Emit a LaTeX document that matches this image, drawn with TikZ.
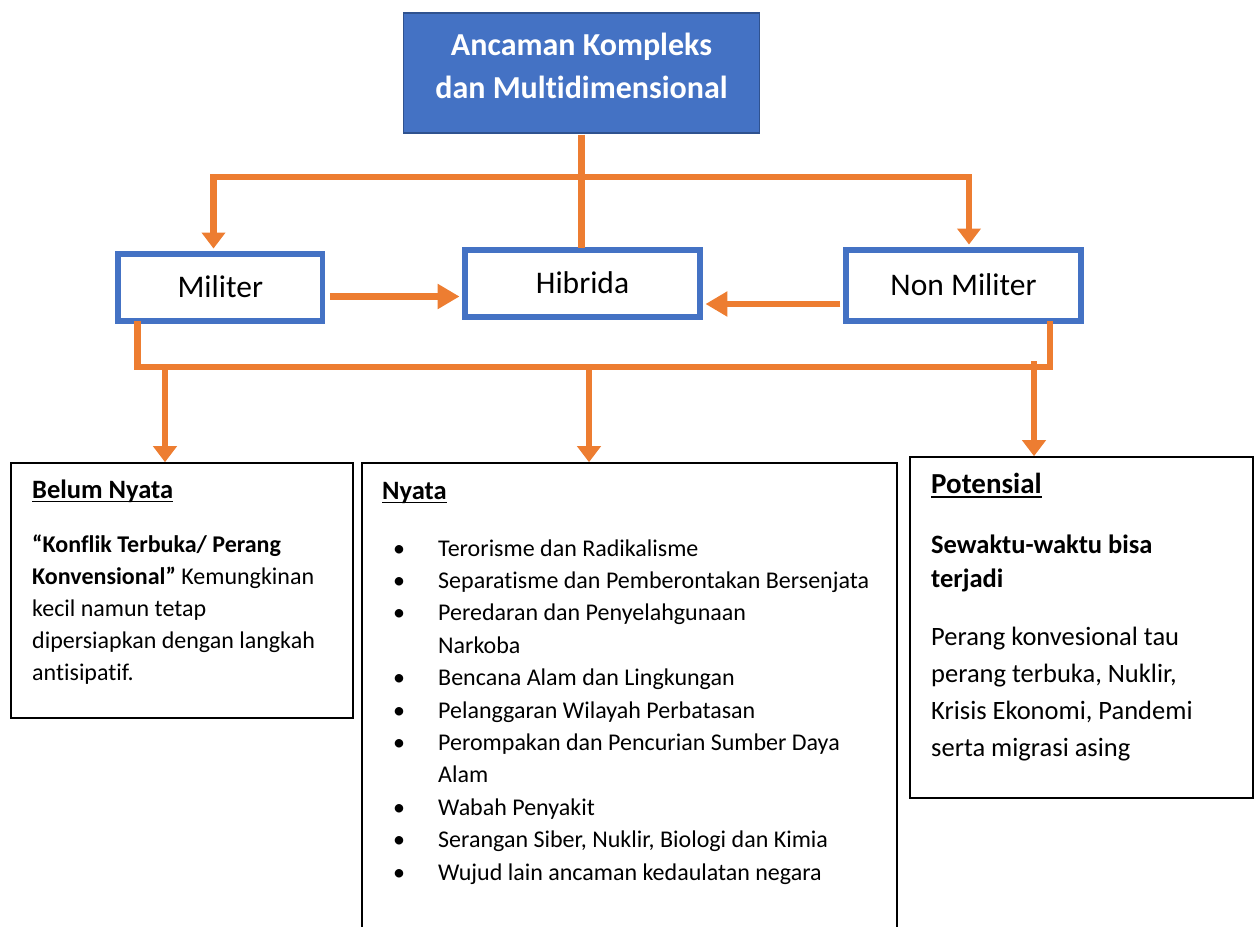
\documentclass[tikz,border=0pt]{standalone}
\usepackage{fontspec}
\setmainfont{Carlito}[Ligatures={NoCommon,NoContextual,NoRequired}]
\usetikzlibrary{arrows.meta}
\definecolor{orng}{HTML}{ED7D31}
\definecolor{blu}{HTML}{4472C4}
\definecolor{dblu}{HTML}{2F528F}
\begin{document}
\begin{tikzpicture}[x=1pt,y=-1pt,
  topbox/.style={draw=dblu, line width=1.5pt, fill=blu, inner sep=0pt, minimum width=356pt, minimum height=120pt},
  titletxt/.style={inner sep=0pt, anchor=base, text=white, font=\fontsize{32}{38}\selectfont\bfseries},
  bluebox/.style={draw=blu, line width=5.5pt, fill=white, inner sep=0pt, font=\fontsize{31.5}{38}\selectfont, text height=20pt, text depth=0pt},
  blackbox/.style={draw=black, line width=1.6pt, inner sep=0pt},
  conn/.style={draw=orng, line width=6.5pt, line cap=rect},
  varr/.style={conn, line cap=butt, -{Triangle[width=23pt,length=16pt]}},
  harr/.style={conn, line cap=butt, -{Triangle[width=24pt,length=22pt]}},
  txt/.style={inner sep=0pt, anchor=base west, font=\fontsize{24}{29}\selectfont},
  bigtxt/.style={inner sep=0pt, anchor=base west, font=\fontsize{26.5}{32}\selectfont},
  hd/.style={inner sep=0pt, anchor=base west, font=\fontsize{26.5}{32}\selectfont\bfseries},
  bul/.style={inner sep=0pt, anchor=base, font=\fontsize{24}{29}\selectfont},
  uline/.style={draw=black, line width=1.6pt}
]
\useasboundingbox (0,0) rectangle (1257,926);
\clip (0,0) rectangle (1257,926);

% top box
\node[topbox] (top) at (581.5,73) {};
\node[titletxt] (t1) at (581.5,55) {Ancaman Kompleks};
\node[titletxt] (t2) at (581.5,98) {dan Multidimensional};

% middle boxes
\node[bluebox, minimum width=204.5pt, minimum height=67pt] (mil) at (220.25,287.5) {Militer};
\node[bluebox, minimum width=235pt, minimum height=67pt] (hib) at (582.5,283.5) {Hibrida};
\node[bluebox, minimum width=235pt, minimum height=71pt] (nm) at (963.5,285.5) {Non Militer};

% top connectors
\coordinate (jl) at (213.5,177);
\coordinate (jr) at (969,177);
\draw[conn] (jl) -- (jr);
\draw[conn, line cap=butt] ([yshift=-0.75pt]top.south) -- ([yshift=-0.75pt]top.south |- hib.north);
\draw[varr, shorten >=2.7pt] (jl) -- (jl |- mil.north);
\draw[varr, shorten >=2.7pt] (jr) -- (jr |- nm.north);

% horizontal arrows to Hibrida
\coordinate (mh) at ([yshift=-9pt]mil.east);
\draw[harr, shorten <=4.5pt, shorten >=2.7pt] (mh) -- (mh -| hib.west);
\coordinate (nh) at ([yshift=-18.5pt]nm.west);
\draw[harr, shorten <=3pt, shorten >=2.7pt] (nh) -- (nh -| hib.east);

% lower boxes
\node[blackbox, minimum width=342pt, minimum height=255pt] (bn) at (182,590.5) {};
\node[blackbox, minimum width=535pt, minimum height=497pt] (ny) at (629.5,711.5) {};
\node[blackbox, minimum width=343pt, minimum height=341pt] (pot) at (1081.5,627.5) {};

% bottom connectors
\coordinate (bl) at (137.5,367);
\coordinate (br) at (1050,367);
\draw[conn] (mil.south -| bl) -- (bl) -- (br) -- (nm.south -| br);
\coordinate (b1) at (165,364);
\coordinate (b2) at (589,364);
\coordinate (b3) at (1034,361);
\draw[varr] (b1) -- (b1 |- bn.north);
\draw[varr] (b2) -- (b2 |- ny.north);
\draw[varr] (b3) -- (b3 |- pot.north);

% Belum Nyata text
\node[hd] (bnh) at (32,498) {Belum Nyata};
\draw[uline] ([yshift=-3.5pt]bnh.base west) -- ([yshift=-3.5pt]bnh.base east);
\node[txt] (bn1) at (32,552) {\textbf{“Konflik Terbuka/ Perang}};
\node[txt] (bn2) at (32,584) {\textbf{Konvensional”} Kemungkinan};
\node[txt] (bn3) at (32,616) {kecil namun tetap};
\node[txt] (bn4) at (32,648) {dipersiapkan dengan langkah};
\node[txt] (bn5) at (32,680) {antisipatif.};

% Nyata text
\node[hd] (nyh) at (382,499) {Nyata};
\draw[uline] ([yshift=-3.5pt]nyh.base west) -- ([yshift=-3.5pt]nyh.base east);
\node[bul] (u1) at (399,556) {•};
\node[txt] (l1) at (438,556) {Terorisme dan Radikalisme};
\node[bul] (u2) at (399,588.4) {•};
\node[txt] (l2) at (438,588.4) {Separatisme dan Pemberontakan Bersenjata};
\node[bul] (u3) at (399,620.8) {•};
\node[txt] (l3) at (438,620.8) {Peredaran dan Penyelahgunaan};
\node[txt] (l3b) at (438,653.2) {Narkoba};
\node[bul] (u4) at (399,685.6) {•};
\node[txt] (l4) at (438,685.6) {Bencana Alam dan Lingkungan};
\node[bul] (u5) at (399,718) {•};
\node[txt] (l5) at (438,718) {Pelanggaran Wilayah Perbatasan};
\node[bul] (u6) at (399,750.4) {•};
\node[txt] (l6) at (438,750.4) {Perompakan dan Pencurian Sumber Daya};
\node[txt] (l6b) at (438,782.8) {Alam};
\node[bul] (u7) at (399,815.2) {•};
\node[txt] (l7) at (438,815.2) {Wabah Penyakit};
\node[bul] (u8) at (399,847.6) {•};
\node[txt] (l8) at (438,847.6) {Serangan Siber, Nuklir, Biologi dan Kimia};
\node[bul] (u9) at (399,880) {•};
\node[txt] (l9) at (438,880) {Wujud lain ancaman kedaulatan negara};

% Potensial text
\node[inner sep=0pt, anchor=base west, font=\fontsize{29}{35}\selectfont\bfseries] (poth) at (931,493) {Potensial};
\draw[uline, line width=1.8pt] ([yshift=-4pt]poth.base west) -- ([yshift=-4pt]poth.base east);
\node[hd] (p1) at (931,553) {Sewaktu-waktu bisa};
\node[hd] (p2) at (931,587) {terjadi};
\node[bigtxt] (p3) at (931,645) {Perang konvesional tau};
\node[bigtxt] (p4) at (931,682) {perang terbuka, Nuklir,};
\node[bigtxt] (p5) at (931,719) {Krisis Ekonomi, Pandemi};
\node[bigtxt] (p6) at (931,756) {serta migrasi asing};
\end{tikzpicture}
\end{document}
